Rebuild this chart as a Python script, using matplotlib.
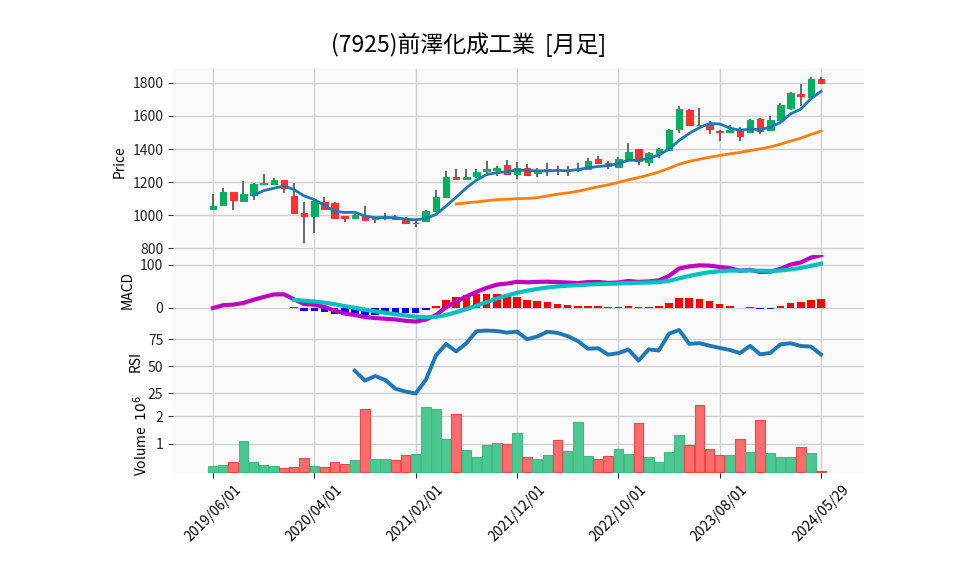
"""Monthly candlestick chart of 7925 with MACD, RSI and volume panels."""

import matplotlib

matplotlib.use("Agg")
import matplotlib.pyplot as plt
import numpy as np
import pandas as pd

plt.rcParams["font.family"] = ["Noto Sans CJK JP", "DejaVu Sans"]

TITLE = "(7925)前澤化成工業  [月足]"

# monthly OHLC, 2019/06 .. 2024/05 plus the partial bar dated 2024/05/29
OPEN = [1035, 1064, 1138, 1088, 1124, 1192, 1192, 1212, 1116, 1016,
        998, 1080, 1074, 994, 982, 998, 978, 984, 986, 982,
        952, 968, 1026, 1108, 1234, 1222, 1238, 1268, 1274, 1302,
        1250, 1288, 1258, 1272, 1276, 1272, 1274, 1282, 1338, 1318,
        1294, 1338, 1398, 1322, 1374, 1394, 1522, 1638, 1548, 1544,
        1510, 1506, 1522, 1506, 1582, 1518, 1578, 1648, 1732, 1714,
        1822]
HIGH = [1128, 1162, 1142, 1208, 1198, 1248, 1228, 1216, 1198, 1078,
        1092, 1108, 1078, 998, 1006, 1054, 992, 1014, 1002, 992,
        978, 1034, 1152, 1270, 1282, 1278, 1282, 1328, 1298, 1334,
        1322, 1312, 1288, 1314, 1298, 1296, 1314, 1348, 1358, 1330,
        1350, 1434, 1400, 1380, 1408, 1522, 1658, 1644, 1648, 1568,
        1518, 1548, 1534, 1582, 1588, 1602, 1678, 1748, 1794, 1838,
        1834]
LOW = [1030, 1060, 1034, 1084, 1092, 1186, 1186, 1132, 1012, 834,
       892, 1030, 978, 962, 978, 972, 952, 974, 970, 950,
       928, 964, 1022, 1104, 1212, 1216, 1228, 1238, 1236, 1250,
       1222, 1238, 1234, 1238, 1242, 1238, 1262, 1272, 1308, 1282,
       1290, 1334, 1302, 1298, 1348, 1390, 1498, 1540, 1538, 1492,
       1448, 1502, 1448, 1502, 1494, 1514, 1574, 1634, 1662, 1708,
       1798]
CLOSE = [1058, 1138, 1094, 1128, 1188, 1196, 1212, 1162, 1016, 998,
         1086, 1038, 982, 982, 1002, 974, 988, 988, 980, 952,
         956, 1028, 1108, 1234, 1222, 1234, 1264, 1278, 1288, 1252,
         1288, 1244, 1274, 1278, 1272, 1276, 1280, 1328, 1318, 1298,
         1338, 1382, 1328, 1374, 1398, 1518, 1642, 1544, 1544, 1524,
         1506, 1518, 1478, 1578, 1508, 1578, 1664, 1738, 1718, 1822,
         1802]
# volume in millions of shares
VOLUME = [0.20, 0.24, 0.34, 1.11, 0.34, 0.24, 0.20, 0.13, 0.17, 0.49,
          0.20, 0.17, 0.34, 0.28, 0.42, 2.25, 0.46, 0.46, 0.42, 0.60,
          0.64, 2.33, 2.25, 1.18, 2.07, 0.78, 0.53, 0.96, 1.04, 1.00,
          1.39, 0.53, 0.46, 0.60, 1.14, 0.75, 1.80, 0.57, 0.46, 0.57,
          0.82, 0.64, 1.75, 0.53, 0.35, 0.71, 1.33, 0.96, 2.41, 0.82,
          0.60, 0.60, 1.18, 0.71, 1.87, 0.67, 0.53, 0.53, 0.89, 0.67,
          0.02]

TICK_POS = [0, 10, 20, 30, 40, 50, 60]
TICK_LABELS = ["2019/06/01", "2020/04/01", "2021/02/01", "2021/12/01",
               "2022/10/01", "2023/08/01", "2024/05/29"]

UP, DOWN, WICK = "#00b060", "#fe3030", "#505050"
VOL_UP, VOL_DOWN = "#4dc790", "#fd6b6c"
VOL_UP_EDGE, VOL_DOWN_EDGE = "#3dbd82", "#f04848"
FACE, GRID = "#fafafa", "#d0d0d0"

W, H = 958, 575
LEFT, RIGHT = 173, 864
XLIM = ((LEFT - 213) / 10.133, (RIGHT - 213) / 10.133)


def panel(fig, top, bottom):
    """Add an axes spanning the given pixel rows."""
    ax = fig.add_axes([LEFT / W, 1 - bottom / H, (RIGHT - LEFT) / W, (bottom - top) / H])
    ax.set_facecolor(FACE)
    for side in ax.spines.values():
        side.set_visible(False)
    ax.grid(True, color=GRID, linewidth=1.0)
    ax.set_axisbelow(True)
    ax.set_xlim(*XLIM)
    ax.set_xticks(TICK_POS)
    ax.tick_params(axis="x", length=0, labelbottom=False)
    ax.tick_params(axis="y", labelsize=10, length=3.5, color="#333333", labelcolor="#222222")
    return ax


def indicators(close: pd.Series):
    """Moving averages, MACD (12/26/9) and a simple 14-period RSI."""
    ma5 = close.rolling(5).mean()
    ma25 = close.rolling(25).mean()
    macd = close.ewm(span=12, adjust=False).mean() - close.ewm(span=26, adjust=False).mean()
    signal = macd.ewm(span=9, adjust=False).mean()
    signal[:8] = np.nan
    hist = macd - signal
    delta = close.diff()
    gain = delta.clip(lower=0).rolling(14).mean()
    loss = (-delta.clip(upper=0)).rolling(14).mean()
    rsi = 100 * gain / (gain + loss)
    return ma5, ma25, macd, signal, hist, rsi


o = np.array(OPEN, dtype=float)
h = np.array(HIGH, dtype=float)
lo = np.array(LOW, dtype=float)
c = np.array(CLOSE, dtype=float)
vol = np.array(VOLUME)
x = np.arange(len(c))
up = c >= o

ma5, ma25, macd, signal, hist, rsi = indicators(pd.Series(c))

fig = plt.figure(figsize=(W / 100, H / 100), dpi=100)
fig.text(469 / W, 1 - 45 / H, TITLE, ha="center", va="center", fontsize=16.5)

# price
ax = panel(fig, 69, 255)
ax.vlines(x, lo, h, color=WICK, linewidth=1.2, zorder=2)
body_col = np.where(up, UP, DOWN)
ax.bar(x, np.abs(c - o), bottom=np.minimum(o, c), width=0.65,
       color=body_col, edgecolor=body_col, linewidth=0.8, zorder=3)
ax.plot(x, ma5, color="#1f77b4", linewidth=2.0, zorder=4)
ax.plot(x, ma25, color="#ff7f0e", linewidth=2.0, zorder=4)
ax.set_ylim(760, 1884)
ax.set_yticks([800, 1000, 1200, 1400, 1600, 1800])
ax.set_ylabel("Price", fontsize=10)

# macd
ax = panel(fig, 255, 325)
ax.bar(x, hist, width=0.75, color=np.where(hist >= 0, "red", "blue"), zorder=2)
ax.plot(x, macd, color="#c000c0", linewidth=3.0, zorder=3)
ax.plot(x, signal, color="#00c0c0", linewidth=3.0, zorder=3)
ax.set_ylim(-39.5, 123)
ax.set_yticks([0, 100])
ax.set_ylabel("MACD", fontsize=10)

# rsi
ax = panel(fig, 325, 398)
ax.plot(x, rsi, color="#1f77b4", linewidth=2.8)
ax.set_ylim(20.6, 88.2)
ax.set_yticks([25, 50, 75])
ax.set_ylabel("RSI", fontsize=10)

# volume
ax = panel(fig, 398, 472.5)
ax.bar(x, vol, width=0.95, color=np.where(up, VOL_UP, VOL_DOWN),
       edgecolor=np.where(up, VOL_UP_EDGE, VOL_DOWN_EDGE), linewidth=0.8, zorder=2)
ax.set_ylim(-0.03, 2.66)
ax.set_yticks([1, 2])
ax.set_ylabel("Volume  $10^{6}$", fontsize=10)
ax.tick_params(axis="x", length=3.5, color="#222222", labelbottom=True,
               labelsize=10, labelrotation=45)
ax.set_xticklabels(TICK_LABELS)

fig.savefig("out.png", dpi=100)
